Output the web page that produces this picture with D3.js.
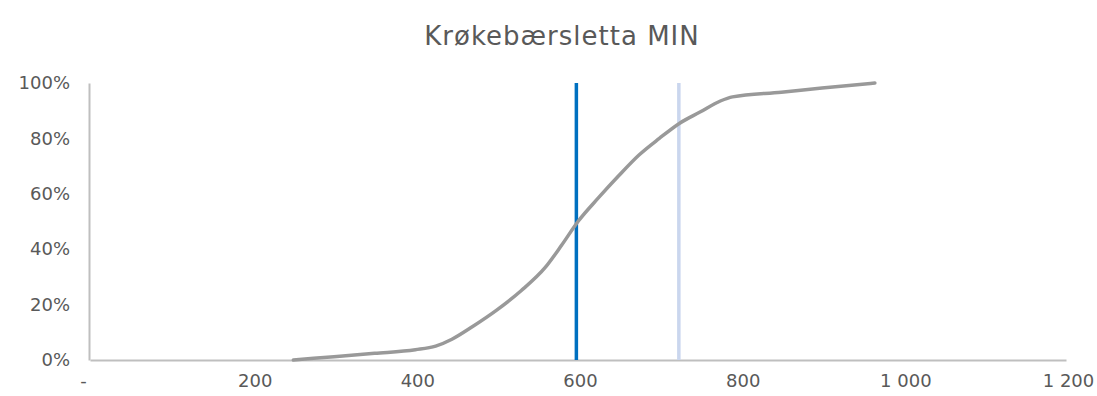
<!DOCTYPE html>
<html>
<head>
<meta charset="utf-8">
<script src="https://cdn.jsdelivr.net/npm/d3@7"></script>
<style>
  body { margin: 0; background: #fff; }
  text { font-family: "DejaVu Sans", sans-serif; fill: #595959; }
</style>
</head>
<body>
<svg id="chart"></svg>
<script>
// data
const title = "Krøkebærsletta MIN";
const curveX = [250, 300, 350, 400, 425, 445, 470, 500, 530, 560, 580, 600, 625, 650, 675, 700, 725, 750, 775, 790, 850, 900, 965];
const curveY = [0, 0.012, 0.024, 0.037, 0.05, 0.075, 0.12, 0.18, 0.25, 0.335, 0.415, 0.50, 0.585, 0.665, 0.74, 0.80, 0.855, 0.895, 0.935, 0.95, 0.967, 0.982, 1.0];
const markerValues = [598, 724];
const markerColors = ["#0070C0", "#CAD6EE"];
const xTicks = [0, 200, 400, 600, 800, 1000, 1200];
const yTicks = [0, 0.2, 0.4, 0.6, 0.8, 1.0];

const W = 1097, H = 396;
const svg = d3.select("#chart").attr("width", W).attr("height", H);

const x = d3.scaleLinear().domain([0, 1200]).range([90, 1066]);
const y = d3.scaleLinear().domain([0, 1]).range([360, 83]);

// title
svg.append("text")
    .attr("x", 562)
    .attr("y", 45)
    .attr("text-anchor", "middle")
    .style("font-size", "26px")
    .style("letter-spacing", "1px")
    .text(title);

// axes
const xAxis = svg.append("g")
    .attr("transform", `translate(0,${y(0)})`)
    .call(d3.axisBottom(x).tickValues(xTicks).tickSize(0).tickPadding(14)
        .tickFormat(d => d === 0 ? "-" : d3.format(",")(d).replace(/,/g, " ")));
xAxis.select(".domain").attr("stroke", "#BFBFBF").attr("stroke-width", 2);
xAxis.selectAll("text").style("font-size", "18px").attr("fill", "#595959")
    .attr("dx", d => d === 0 ? -7 : 2);

const yAxis = svg.append("g")
    .attr("transform", `translate(${x(0) - 1},0)`)
    .call(d3.axisLeft(y).tickValues(yTicks).tickSize(0).tickPadding(19)
        .tickFormat(d3.format(".0%")));
yAxis.select(".domain").attr("stroke", "#BFBFBF").attr("stroke-width", 2);
yAxis.selectAll("text").style("font-size", "18px").attr("fill", "#595959");

// vertical marker lines
svg.selectAll(".marker")
    .data(markerValues)
    .join("line")
    .attr("class", "marker")
    .attr("x1", d => x(d))
    .attr("x2", d => x(d))
    .attr("y1", y(1))
    .attr("y2", y(0))
    .attr("stroke", (d, i) => markerColors[i])
    .attr("stroke-width", 3.5);

// cumulative curve
const pts = curveX.map((v, i) => [v, curveY[i]]);
svg.append("path")
    .datum(pts)
    .attr("fill", "none")
    .attr("stroke", "#999999")
    .attr("stroke-width", 3.5)
    .attr("stroke-linecap", "round")
    .attr("d", d3.line().x(d => x(d[0])).y(d => y(d[1])).curve(d3.curveMonotoneX));
</script>
</body>
</html>
